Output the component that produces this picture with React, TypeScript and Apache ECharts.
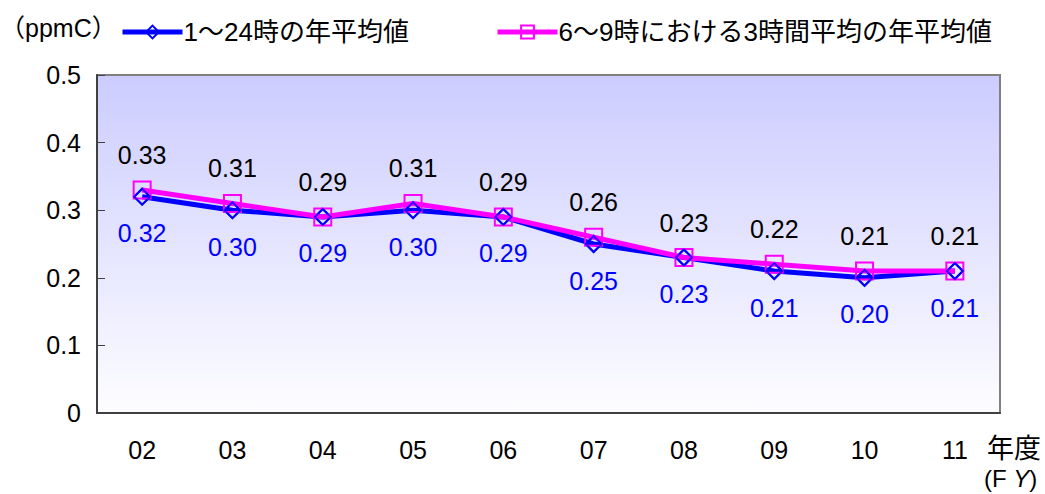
import React, { useEffect, useRef } from "react";
import * as echarts from "echarts";

const categories = ["02", "03", "04", "05", "06", "07", "08", "09", "10", "11"];
const allDayAvg = [0.32, 0.3, 0.29, 0.3, 0.29, 0.25, 0.23, 0.21, 0.2, 0.21];
const morningAvg = [0.33, 0.31, 0.29, 0.31, 0.29, 0.26, 0.23, 0.22, 0.21, 0.21];
const seriesNames = ["1〜24時の年平均値", "6〜9時における3時間平均の年平均値"];
const unitLabel = "（ppmC）";

const FONT = "'Liberation Sans', 'Noto Sans CJK JP', sans-serif";
const NUM = 25;

export default function App() {
  const ref = useRef<HTMLDivElement>(null);
  useEffect(() => {
    document.body.style.margin = "0";
    const chart = echarts.init(ref.current!, null, { renderer: "svg" });
    const legendBase = {
      top: 14,
      itemWidth: 60,
      itemHeight: 16,
      itemGap: 0,
      lineStyle: { width: 5 },
      textStyle: { fontSize: 26, color: "#000", fontFamily: FONT, padding: [0, 0, 0, -4] },
    };
    chart.setOption({
      animation: false,
      textStyle: { fontFamily: FONT },
      grid: {
        left: 97,
        top: 75,
        width: 903,
        height: 338,
        show: true,
        borderColor: "#808080",
        borderWidth: 2,
        backgroundColor: new echarts.graphic.LinearGradient(0, 0, 0, 1, [
          { offset: 0, color: "#ccccff" },
          { offset: 1, color: "#fdfdff" },
        ]),
      },
      legend: [
        { ...legendBase, data: [seriesNames[0]], left: 115 },
        { ...legendBase, data: [seriesNames[1]], left: 490 },
      ],
      graphic: [
        {
          type: "text",
          left: 0,
          top: 15,
          style: { text: unitLabel, fontSize: 25, fill: "#000", fontFamily: FONT },
        },
        {
          type: "text",
          left: 987,
          top: 435,
          style: { text: "年度", fontSize: 27, fill: "#000", fontFamily: FONT },
        },
        {
          type: "text",
          left: 984,
          top: 466,
          style: {
            rich: {
              a: { fontSize: 24, fill: "#000", fontFamily: FONT },
              b: { fontSize: 24, fill: "#000", fontFamily: FONT, fontStyle: "italic" },
            },
            text: "{a|(F }{b|Y}{a|)}",
          },
        },
      ],
      xAxis: {
        type: "category",
        data: categories,
        boundaryGap: true,
        axisLine: { lineStyle: { color: "#404040", width: 2 } },
        axisTick: { inside: true, length: 8, lineStyle: { color: "#404040" } },
        axisLabel: { fontSize: NUM, color: "#000", margin: 24, fontFamily: FONT },
      },
      yAxis: {
        type: "value",
        min: 0,
        max: 0.5,
        interval: 0.1,
        splitLine: { show: false },
        axisLine: { show: true, lineStyle: { color: "#404040", width: 2 } },
        axisTick: { show: true, inside: true, length: 8, lineStyle: { color: "#404040" } },
        axisLabel: { fontSize: NUM, color: "#000", margin: 16, fontFamily: FONT },
      },
      series: [
        {
          name: seriesNames[0],
          type: "line",
          data: allDayAvg,
          z: 2,
          symbol: "diamond",
          symbolSize: 16,
          itemStyle: { color: "transparent", borderColor: "#0000ff", borderWidth: 2 },
          lineStyle: { color: "#0000ff", width: 5 },
          label: {
            show: true,
            position: "bottom",
            distance: 15,
            color: "#0000ff",
            fontSize: NUM,
            fontFamily: FONT,
            formatter: (p: any) => Number(p.value).toFixed(2),
          },
        },
        {
          name: seriesNames[1],
          type: "line",
          data: morningAvg,
          z: 3,
          symbol: "rect",
          symbolSize: 17,
          itemStyle: { color: "transparent", borderColor: "#ff00ff", borderWidth: 2 },
          lineStyle: { color: "#ff00ff", width: 5 },
          label: {
            show: true,
            position: "top",
            distance: 13,
            color: "#000",
            fontSize: NUM,
            fontFamily: FONT,
            formatter: (p: any) => Number(p.value).toFixed(2),
          },
        },
        {
          name: "diamonds",
          type: "scatter",
          data: allDayAvg,
          z: 4,
          symbol: "diamond",
          symbolSize: 16,
          itemStyle: { color: "transparent", borderColor: "#0000ff", borderWidth: 2 },
          silent: true,
        },
      ],
    });
    return () => chart.dispose();
  }, []);
  return <div ref={ref} style={{ width: 1045, height: 494 }} />;
}
